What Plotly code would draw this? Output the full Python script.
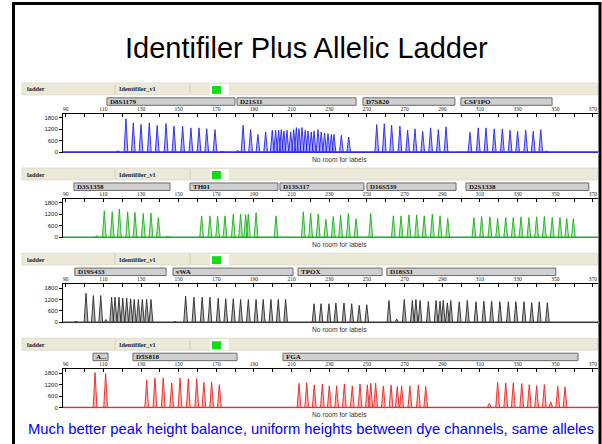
import plotly.graph_objects as go

# ---------------- data ----------------
title_text = "Identifiler Plus Allelic Ladder"
caption_text = "Much better peak height balance, uniform heights between dye channels, same alleles"
header_sample = "ladder"
header_panel = "Identifiler_v1"
no_room_text = "No room for labels"

x_tick_values = [90, 100, 110, 120, 130, 140, 150, 160, 170, 180, 190, 200, 210, 220, 230,
                 240, 250, 260, 270, 280, 290, 300, 310, 320, 330, 340, 350, 360, 370]
x_label_values = [90, 110, 130, 150, 170, 190, 210, 230, 250, 270, 290, 310, 330, 350, 370]
y_tick_values = [0, 600, 1200, 1800]
y_tick_labels = ["0", "600", "1200", "1800"]

# Blue dye (6-FAM)
blue_loci = ["D8S1179", "D21S11", "D7S820", "CSF1PO"]
blue_bin_start = [111.9, 181.0, 247.9, 299.9]
blue_bin_end = [179.9, 244.2, 296.7, 348.3]
blue_peak_bp = [117.8, 122.0, 125.9, 130.0, 134.4, 138.6, 143.3, 147.5, 152.1, 156.5, 160.8, 164.9, 169.3, 173.4,
                181.5, 184.2, 188.2, 192.1, 196.2, 199.7, 201.5, 203.1, 204.5, 205.9, 207.5, 209.5, 211.1, 212.5,
                213.9, 215.5, 217.2, 218.7, 220.4, 221.9, 224.0, 225.7, 227.5, 229.3, 231.1, 232.5, 236.4, 240.3,
                255.2, 259.2, 263.1, 267.5, 271.6, 275.5, 279.6, 283.8, 287.9, 292.0,
                304.7, 309.1, 313.2, 317.6, 321.9, 326.0, 330.0, 334.3, 338.3, 342.3, 345.4]
blue_peak_rfu = [60, 1750, 1535, 1450, 1535, 1395, 1500, 1360, 1360, 1270, 1270, 1220, 1180, 40,
                 90, 1408, 1180, 933, 1056, 1144, 1144, 1144, 1180, 1109, 1144, 1056, 1180, 1285,
                 1232, 1285, 1144, 1109, 1056, 1109, 1180, 1056, 1003, 968, 933, 933, 880, 792,
                 1447, 1482, 1412, 1359, 1147, 1218, 1094, 1270, 1182, 1324,
                 1041, 1270, 1270, 1218, 1218, 1147, 1094, 1147, 1094, 1182, 60]

# Green dye (VIC)
green_loci = ["D3S1358", "TH01", "D13S317", "D16S539", "D2S1338"]
green_bin_start = [94.4, 156.0, 203.8, 250.0, 302.6]
green_bin_end = [145.4, 202.7, 248.4, 297.3, 367.8]
green_peak_bp = [106.5, 110.5, 114.7, 118.5, 122.9, 126.8, 131.2, 135.3, 139.2, 144.2,
                 162.2, 166.6, 170.7, 174.6, 179.0, 182.9, 185.6, 187.0, 191.1, 201.7,
                 216.2, 220.1, 224.1, 228.2, 232.1, 236.0, 240.1, 244.2,
                 252.0, 264.0, 268.1, 272.3, 276.4, 280.4, 284.7, 288.8, 292.9,
                 306.8, 310.9, 315.3, 319.4, 323.7, 327.7, 331.8, 336.0, 340.1, 344.2, 348.4, 352.5, 356.1, 359.6]
green_peak_rfu = [80, 1388, 1335, 1477, 1335, 1299, 1246, 1264, 1032, 40,
                  1121, 1121, 1086, 1121, 1210, 1210, 1175, 1210, 1282, 1121,
                  1335, 1264, 1210, 943, 1086, 1157, 1246, 979,
                  1246, 1121, 1121, 1175, 1175, 1121, 1210, 1121, 997,
                  1032, 1086, 1068, 997, 1032, 1032, 1068, 1032, 1068, 1086, 1032, 1032, 979, 979]

# Black dye (NED)
black_loci = ["D19S433", "vWA", "TPOX", "D18S51"]
black_bin_start = [94.9, 147.0, 213.4, 260.6]
black_bin_end = [143.3, 210.7, 258.0, 350.3]
black_peak_bp = [95.5, 100.8, 104.7, 108.6, 111.4, 114.4, 116.2, 118.3, 120.3, 122.4, 124.5, 126.4, 128.6, 130.7, 133.0, 135.3,
                 148.0, 153.7, 158.1, 162.5, 166.6, 171.0, 175.0, 179.0, 182.9, 187.0, 191.1, 194.9, 199.0, 202.9, 206.8,
                 221.9, 225.6, 229.8, 233.5, 237.8, 241.9, 245.9, 249.9,
                 261.7, 265.8, 269.8, 274.1, 276.0, 278.2, 282.6, 286.7, 288.8, 290.5, 292.7, 294.5, 299.0, 303.3,
                 307.9, 312.1, 316.2, 320.6, 325.1, 329.1, 333.4, 337.5, 341.5, 345.8]
black_peak_rfu = [60, 1525, 1405, 1405, 150, 1320, 1320, 1320, 1268, 1268, 1234, 1200, 1200, 1200, 1200, 1200,
                  50, 1371, 1320, 1320, 1320, 1268, 1234, 1234, 1200, 1200, 1200, 1200, 1200, 1200, 1200,
                  977, 977, 977, 1011, 1011, 977, 891, 925,
                  1148, 170, 1200, 1148, 1200, 1148, 1100, 1148, 1114, 1148, 1028, 1148, 1080, 1148,
                  1080, 1114, 1114, 1080, 1080, 1080, 1080, 1028, 1080, 1028]

# Red dye (PET)
red_loci = ["A...", "D5S818", "FGA"]
red_bin_start = [104.5, 125.7, 205.4]
red_bin_end = [112.5, 181.0, 362.1]
red_peak_bp = [105.6, 111.2,
               133.0, 137.4, 141.8, 146.3, 150.7, 155.1, 159.6, 163.4, 167.5, 171.6,
               213.9, 218.0, 222.0, 226.3, 230.0, 233.9, 238.0, 242.2, 246.3, 250.2, 252.0, 254.6, 258.7,
               262.8, 266.1, 268.4, 272.8, 277.3, 281.2,
               315.0, 319.4, 323.7, 327.7, 332.2, 336.2, 340.1, 344.2, 347.6, 351.3, 355.2]
red_peak_rfu = [1830, 1780,
                1423, 1543, 1543, 1286, 1543, 1509, 1509, 1320, 1320, 1200,
                1268, 1303, 1183, 1234, 1131, 1131, 1234, 1131, 1234, 1183, 1268, 1268, 1131,
                1183, 1097, 1131, 1131, 1183, 1097,
                223, 1320, 1285, 1285, 1251, 1200, 1148, 1200, 291, 1114, 1080]

# ---------------- rendering ----------------
W, H = 602, 444


def fx(px):
    return px / W


def fy(py):
    return 1 - py / H


X_RANGE = [88.57, 372.7]
Y_RANGE = [-52, 2009]
PLOT_L, PLOT_R = 63, 598
T0, PERIOD = 83.3, 85.5
PEAK_HALF = 1.0
SANS = "Liberation Sans, Arial, sans-serif"
SERIF = "Liberation Serif, Times New Roman, serif"

dyes = [
    dict(loci=blue_loci, start=blue_bin_start, end=blue_bin_end, bp=blue_peak_bp, rfu=blue_peak_rfu,
         line="#2424F0", fill="rgba(150,150,255,0.75)", base="#2E2EE0"),
    dict(loci=green_loci, start=green_bin_start, end=green_bin_end, bp=green_peak_bp, rfu=green_peak_rfu,
         line="#18B018", fill="rgba(140,230,140,0.75)", base="#22A822"),
    dict(loci=black_loci, start=black_bin_start, end=black_bin_end, bp=black_peak_bp, rfu=black_peak_rfu,
         line="#2A2A2A", fill="rgba(160,160,160,0.8)", base="#3A3A3A"),
    dict(loci=red_loci, start=red_bin_start, end=red_bin_end, bp=red_peak_bp, rfu=red_peak_rfu,
         line="#F02020", fill="rgba(255,160,160,0.8)", base="#E03030"),
]

fig = go.Figure()
shapes = []
annotations = []
layout_axes = {}

x_tick_text = [str(v) if v in x_label_values else "" for v in x_tick_values]

for k, d in enumerate(dyes):
    T = T0 + PERIOD * k
    xa = "x" if k == 0 else f"x{k + 1}"
    ya = "y" if k == 0 else f"y{k + 1}"
    xname = "xaxis" if k == 0 else f"xaxis{k + 1}"
    yname = "yaxis" if k == 0 else f"yaxis{k + 1}"

    xs, ys = [], []
    for b, h in zip(d["bp"], d["rfu"]):
        xs += [b - PEAK_HALF, b, b + PEAK_HALF, None]
        ys += [0, h, 0, None]
    fig.add_trace(go.Scatter(x=xs, y=ys, xaxis=xa, yaxis=ya, mode="lines", fill="toself",
                             fillcolor=d["fill"], line=dict(color=d["line"], width=0.9),
                             hoverinfo="skip", showlegend=False))

    layout_axes[xname] = dict(domain=[fx(PLOT_L), fx(PLOT_R)], range=X_RANGE, anchor=ya, side="top",
                              showline=True, linecolor="#000", linewidth=1, ticks="inside", ticklen=3,
                              tickcolor="#000", tickmode="array", tickvals=x_tick_values, ticktext=x_tick_text,
                              tickfont=dict(size=5.5, family=SERIF, color="#222"), showgrid=False,
                              zeroline=False, fixedrange=True)
    layout_axes[yname] = dict(domain=[fy(T + 70.5), fy(T + 31)], range=Y_RANGE, anchor=xa,
                              showline=True, linecolor="#000", linewidth=1, ticks="outside", ticklen=3,
                              tickcolor="#000", tickmode="array", tickvals=y_tick_values, ticktext=y_tick_labels,
                              tickfont=dict(size=6, family=SANS, color="#222"), showgrid=False,
                              zeroline=False, fixedrange=True)

    # baseline
    shapes.append(dict(type="line", xref=f"{xa} domain", yref=ya, x0=0, x1=1, y0=0, y1=0,
                       line=dict(color=d["base"], width=1.6)))

    # header bar
    shapes.append(dict(type="rect", xref="paper", yref="paper", x0=fx(22), x1=fx(598), y0=fy(T), y1=fy(T + 12),
                       fillcolor="#ECE9D8", line=dict(color="#D2CFC0", width=0.6), layer="below"))
    for dv in (115, 190):
        shapes.append(dict(type="line", xref="paper", yref="paper", x0=fx(dv), x1=fx(dv), y0=fy(T + 1),
                           y1=fy(T + 11), line=dict(color="#C8C5B4", width=0.8)))
    shapes.append(dict(type="rect", xref="paper", yref="paper", x0=fx(210), x1=fx(229), y0=fy(T + 1),
                       y1=fy(T + 12), fillcolor="#FFFFFF", line=dict(width=0)))
    shapes.append(dict(type="rect", xref="paper", yref="paper", x0=fx(212), x1=fx(221), y0=fy(T + 3),
                       y1=fy(T + 11), fillcolor="#11DD11", line=dict(width=0)))
    annotations.append(dict(xref="paper", yref="paper", x=fx(25), y=fy(T + 6), xanchor="left", yanchor="middle",
                            text=f"<b>{header_sample}</b>", showarrow=False,
                            font=dict(size=6.3, family=SERIF, color="#222")))
    annotations.append(dict(xref="paper", yref="paper", x=fx(117), y=fy(T + 6), xanchor="left", yanchor="middle",
                            text=f"<b>{header_panel}</b>", showarrow=False,
                            font=dict(size=6.3, family=SERIF, color="#222")))

    # locus bins
    for name, s, e in zip(d["loci"], d["start"], d["end"]):
        shapes.append(dict(type="rect", xref=xa, yref="paper", x0=s, x1=e, y0=fy(T + 15), y1=fy(T + 22.5),
                           fillcolor="#CFCFCF", line=dict(color="#6A6A6A", width=1)))
        annotations.append(dict(xref=xa, yref="paper", x=s, y=fy(T + 18.7), xanchor="left", yanchor="middle",
                                xshift=1, text=f"<b>{name}</b>", showarrow=False,
                                font=dict(size=7, family=SERIF, color="#111")))

    annotations.append(dict(xref="paper", yref="paper", x=fx(310), y=fy(T + 76.5), xanchor="left",
                            yanchor="middle", text=no_room_text, showarrow=False,
                            font=dict(size=6.7, family=SANS, color="#333")))

# slide frame
shapes.append(dict(type="rect", xref="paper", yref="paper", x0=fx(13.5), x1=fx(600), y0=fy(470), y1=fy(3.5),
                   line=dict(color="#000", width=3), fillcolor="rgba(0,0,0,0)"))

annotations.append(dict(xref="paper", yref="paper", x=fx(306.5), y=fy(48), xanchor="center", yanchor="middle",
                        text=title_text, showarrow=False, font=dict(size=29, family=SANS, color="#000")))
annotations.append(dict(xref="paper", yref="paper", x=fx(311), y=fy(431), xanchor="center", yanchor="middle",
                        text=caption_text, showarrow=False, font=dict(size=14.8, family=SANS, color="#0000FF")))

fig.update_layout(width=W, height=H, autosize=False, margin=dict(l=0, r=0, t=0, b=0),
                  paper_bgcolor="#FFFFFF", plot_bgcolor="#FFFFFF", showlegend=False,
                  shapes=shapes, annotations=annotations, **layout_axes)

fig.write_html("out.html", config={"displayModeBar": False},
               post_script="document.body.style.margin='0';document.body.style.overflow='hidden';")
